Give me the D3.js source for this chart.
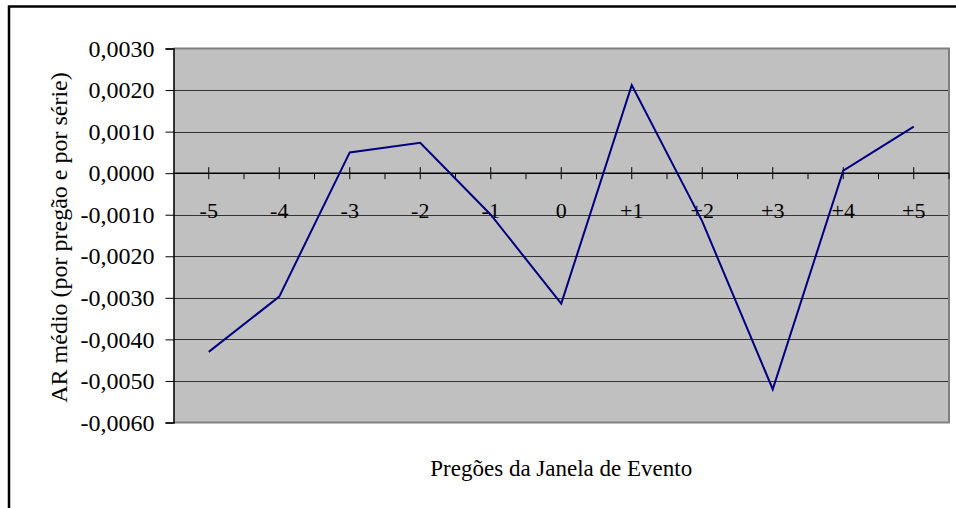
<!DOCTYPE html>
<html>
<head>
<meta charset="utf-8">
<script src="https://cdn.jsdelivr.net/npm/d3@7"></script>
<style>
  html, body { margin: 0; padding: 0; background: #ffffff; }
  svg { display: block; }
</style>
</head>
<body>
<svg id="chart" width="956" height="508"></svg>
<script>
// Event window trading days and the mean abnormal return per day
const categories = ["-5", "-4", "-3", "-2", "-1", "0", "+1", "+2", "+3", "+4", "+5"];
const arValues = [-0.0043, -0.00297, 0.0005, 0.00073, -0.0010, -0.00314, 0.00212, -0.00116, -0.0052, 0.00006, 0.00112];
const yTicks = [0.003, 0.002, 0.001, 0, -0.001, -0.002, -0.003, -0.004, -0.005, -0.006];
const yDomain = [-0.006, 0.003];
const xTitle = "Pregões da Janela de Evento";
const yTitle = "AR médio (por pregão e por série)";

const FONT = "'Liberation Serif', 'Times New Roman', Times, serif";

const svg = d3.select("#chart");

const plot = { left: 173.5, top: 48.5, right: 949, bottom: 422.5 };

const x = d3.scaleBand().domain(categories).range([plot.left, plot.right]).padding(0);
const y = d3.scaleLinear().domain(yDomain).range([plot.bottom, plot.top]);

const ptBR = d3.formatLocale({ decimal: ",", thousands: ".", grouping: [3], currency: ["R$", ""], minus: "-" });
const fmt = ptBR.format(".4f");

// Outer chart frame (runs off the right and bottom edges)
svg.append("rect")
  .attr("x", 9).attr("y", 6.5)
  .attr("width", 1000).attr("height", 600)
  .attr("fill", "none").attr("stroke", "#000").attr("stroke-width", 2.5);

// Plot background
svg.append("rect")
  .attr("x", plot.left).attr("y", plot.top)
  .attr("width", plot.right - plot.left).attr("height", plot.bottom - plot.top)
  .attr("fill", "#c0c0c0");

// Horizontal gridlines
svg.append("g")
  .selectAll("line")
  .data(yTicks.filter(d => d !== 0 && d !== yDomain[0] && d !== yDomain[1]))
  .join("line")
  .attr("x1", plot.left).attr("x2", plot.right)
  .attr("y1", d => Math.round(y(d)) + 0.5).attr("y2", d => Math.round(y(d)) + 0.5)
  .attr("stroke", "#333").attr("stroke-width", 1);

// Plot area edges (top, right, bottom)
svg.append("path")
  .attr("d", `M${plot.left},${plot.top}H${plot.right}V${plot.bottom}H${plot.left}`)
  .attr("fill", "none").attr("stroke", "#808080").attr("stroke-width", 2);

// Y axis
const yAxis = d3.axisLeft(y).tickValues(yTicks).tickFormat(fmt).tickSize(8).tickPadding(11);
const gy = svg.append("g").attr("transform", `translate(${plot.left},0)`).call(yAxis);
gy.attr("font-family", null).attr("font-size", null);
gy.select(".domain").attr("stroke", "#000").attr("stroke-width", 1.5);
gy.selectAll(".tick line").attr("stroke", "#000");
gy.selectAll(".tick text")
  .style("font-family", FONT)
  .style("font-size", "24px").attr("fill", "#000");

// Category axis crossing at zero
const y0 = y(0);
const gx = svg.append("g").attr("transform", `translate(0,${y0})`);
gx.append("line")
  .attr("x1", plot.left).attr("x2", plot.right)
  .attr("stroke", "#000").attr("stroke-width", 1.5);
// major ticks at category centres, crossing the axis
gx.selectAll("line.major")
  .data(categories)
  .join("line").attr("class", "major")
  .attr("x1", d => x(d) + x.bandwidth() / 2).attr("x2", d => x(d) + x.bandwidth() / 2)
  .attr("y1", -6).attr("y2", 6)
  .attr("stroke", "#000").attr("stroke-width", 1);
// minor ticks at category boundaries
gx.selectAll("line.minor")
  .data(categories)
  .join("line").attr("class", "minor")
  .attr("x1", d => x(d) + x.bandwidth())
  .attr("x2", d => x(d) + x.bandwidth())
  .attr("y1", 0).attr("y2", 6)
  .attr("stroke", "#000").attr("stroke-width", 1);
gx.selectAll("text")
  .data(categories)
  .join("text")
  .attr("x", d => x(d) + x.bandwidth() / 2)
  .attr("y", 45)
  .attr("text-anchor", "middle")
  .style("font-family", FONT)
  .style("font-size", "22px")
  .attr("fill", "#000")
  .text(d => d);

// Series line
const line = d3.line()
  .x((d, i) => x(categories[i]) + x.bandwidth() / 2)
  .y(d => y(d));
svg.append("path")
  .datum(arValues)
  .attr("d", line)
  .attr("fill", "none")
  .attr("stroke", "#000080")
  .attr("stroke-width", 2)
  .attr("stroke-linejoin", "miter");

// Axis titles
svg.append("text")
  .attr("x", (plot.left + plot.right) / 2)
  .attr("y", 476)
  .attr("text-anchor", "middle")
  .style("font-family", FONT)
  .style("font-size", "23px")
  .attr("fill", "#000")
  .text(xTitle);

svg.append("text")
  .attr("transform", `translate(67,${(plot.top + plot.bottom) / 2 + 2}) rotate(-90)`)
  .attr("text-anchor", "middle")
  .style("font-family", FONT)
  .style("font-size", "24px")
  .attr("fill", "#000")
  .text(yTitle);
</script>
</body>
</html>
